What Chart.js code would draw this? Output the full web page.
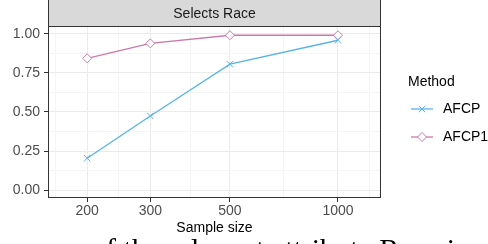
<!DOCTYPE html>
<html>
<head>
<meta charset="utf-8">
<script src="https://cdn.jsdelivr.net/npm/chart.js@4.4.1/dist/chart.umd.min.js"></script>
<style>
  html, body { margin: 0; padding: 0; background: #fff; overflow: hidden; }
  #chart { display: block; }
</style>
</head>
<body>
<canvas id="chart" width="488" height="244"></canvas>
<script>
// data
const sampleSizes = [200, 300, 500, 1000];
const afcp = [0.205, 0.475, 0.805, 0.958];
const afcp1 = [0.843, 0.938, 0.99, 0.99];

const xMajor = [200, 300, 500, 1000];
const xMinor = [163, 245, 387, 707, 1227];
const yMajor = [0, 0.25, 0.5, 0.75, 1];
const yMinor = [0.125, 0.375, 0.625, 0.875];

const panelTitle = "Selects Race";
const legendTitle = "Method";
const captionText = "of the relevant attribute Race in";

const BLUE = "#56B4E9";
const PINK = "#CC79A7";
const FONT = "'Liberation Sans', Arial, sans-serif";
const SERIF = "'Liberation Serif', 'DejaVu Serif', serif";

Chart.defaults.font.family = FONT;

const isMajor = (list, v) => list.some((m) => Math.abs(m - v) < 1e-6);

// strip, panel border, legend and the cut-off caption line below
const facetPlugin = {
  id: "facet",
  afterDraw(chart) {
    const ctx = chart.ctx;
    const a = chart.chartArea;
    ctx.save();
    // panel border
    ctx.strokeStyle = "#333333";
    ctx.lineWidth = 1;
    ctx.strokeRect(a.left + 0.5, a.top + 0.5, a.right - a.left - 1, a.bottom - a.top - 1);
    // strip
    ctx.fillStyle = "#D9D9D9";
    ctx.fillRect(a.left, -2, a.right - a.left, a.top + 2);
    ctx.strokeRect(a.left + 0.5, -2, a.right - a.left - 1, a.top + 2.5);
    ctx.fillStyle = "#1A1A1A";
    ctx.font = "14px " + FONT;
    ctx.textAlign = "center";
    ctx.textBaseline = "middle";
    ctx.fillText(panelTitle, (a.left + a.right) / 2, a.top / 2 + 1);

    // legend
    ctx.textAlign = "left";
    ctx.fillStyle = "#000";
    ctx.fillText(legendTitle, 408, 82);
    chart.data.datasets.forEach((ds, i) => {
      const y = 109 + i * 28;
      ctx.strokeStyle = ds.borderColor;
      ctx.lineWidth = 1.3;
      ctx.beginPath();
      ctx.moveTo(411, y);
      ctx.lineTo(433, y);
      ctx.stroke();
      ctx.lineWidth = 1;
      ctx.fillStyle = "#FFFFFF";
      Chart.helpers.drawPoint(ctx, {
        pointStyle: ds.pointStyle,
        radius: ds.pointRadius,
        rotation: 0,
        borderWidth: 1,
      }, 422, y);
      ctx.fillStyle = "#000";
      ctx.font = "14px " + FONT;
      ctx.fillText(ds.label, 443, y + 0.5);
    });

    // text line of the surrounding page, mostly cut off
    ctx.font = "30px " + SERIF;
    ctx.textBaseline = "alphabetic";
    ctx.fillStyle = "#000";
    ctx.fillText(captionText, 91, 258.5);
    ctx.restore();
  },
};

new Chart(document.getElementById("chart"), {
  type: "line",
  data: {
    datasets: [
      {
        label: "AFCP",
        data: sampleSizes.map((x, i) => ({ x: x, y: afcp[i] })),
        borderColor: BLUE,
        backgroundColor: "rgba(0,0,0,0)",
        borderWidth: 1.3,
        pointStyle: "crossRot",
        pointRadius: 4.5,
        pointBorderWidth: 1,
        tension: 0,
      },
      {
        label: "AFCP1",
        data: sampleSizes.map((x, i) => ({ x: x, y: afcp1[i] })),
        borderColor: PINK,
        backgroundColor: "#FFFFFF",
        borderWidth: 1.3,
        pointStyle: "rectRot",
        pointRadius: 4.5,
        pointBorderWidth: 1,
        tension: 0,
      },
    ],
  },
  options: {
    responsive: false,
    animation: false,
    layout: { padding: { top: 26, right: 107, left: 0, bottom: 0 } },
    plugins: { legend: { display: false }, tooltip: { enabled: false } },
    scales: {
      x: {
        type: "logarithmic",
        min: 155.6,
        max: 1318,
        afterBuildTicks(scale) {
          scale.ticks = xMajor.concat(xMinor).sort((a, b) => a - b).map((v) => ({ value: v }));
        },
        afterFit(scale) { scale.height = 46; },
        border: { display: false },
        grid: {
          color: (c) => (c.tick && isMajor(xMajor, c.tick.value) ? "#EBEBEB" : "#F5F5F5"),
          lineWidth: 1,
          tickLength: 4,
          tickColor: (c) => (c.tick && isMajor(xMajor, c.tick.value) ? "#333333" : "rgba(0,0,0,0)"),
        },
        ticks: {
          autoSkip: false,
          maxRotation: 0,
          padding: 1,
          color: "#4D4D4D",
          font: { size: 14 },
          callback: (v) => (isMajor(xMajor, v) ? String(v) : ""),
        },
        title: {
          display: true,
          text: "Sample size",
          color: "#000",
          font: { size: 14 },
          padding: { top: 0, bottom: 7 },
        },
      },
      y: {
        type: "linear",
        min: -0.049,
        max: 1.049,
        afterBuildTicks(scale) {
          scale.ticks = yMajor.concat(yMinor).sort((a, b) => a - b).map((v) => ({ value: v }));
        },
        afterFit(scale) { scale.width = 48; },
        border: { display: false },
        grid: {
          color: (c) => (c.tick && isMajor(yMajor, c.tick.value) ? "#EBEBEB" : "#F5F5F5"),
          lineWidth: 1,
          tickLength: 4,
          tickColor: (c) => (c.tick && isMajor(yMajor, c.tick.value) ? "#333333" : "rgba(0,0,0,0)"),
        },
        ticks: {
          autoSkip: false,
          padding: 4,
          color: "#4D4D4D",
          font: { size: 14 },
          callback: (v) => (isMajor(yMajor, v) ? v.toFixed(2) : ""),
        },
      },
    },
  },
  plugins: [facetPlugin],
});
</script>
</body>
</html>
